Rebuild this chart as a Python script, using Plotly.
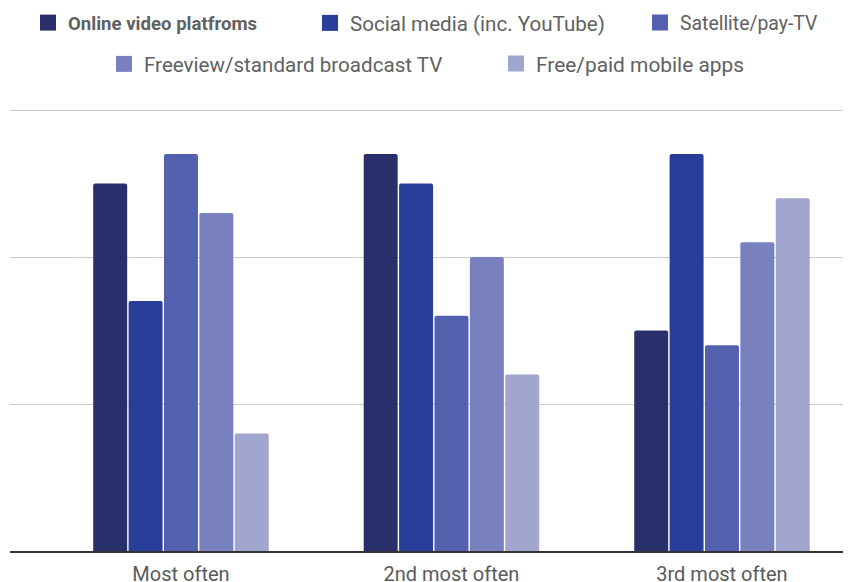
import plotly.graph_objects as go

categories = ["Most often", "2nd most often", "3rd most often"]
series_names = ["<b>Online video platfroms</b>", "Social media (inc. YouTube)", "Satellite/pay-TV",
                "Freeview/standard broadcast TV", "Free/paid mobile apps"]
online_video = [25, 27, 15]
social_media = [17, 25, 27]
satellite = [27, 16, 14]
freeview = [23, 20, 21]
mobile_apps = [8, 12, 24]
colors = ["#282f6b", "#283e9a", "#5260ad", "#7880be", "#a0a6cd"]

values = [online_video, social_media, satellite, freeview, mobile_apps]

# legend entry placement (figure px): left x, centre y, font size
legend_pos = [(20, 15, 18.6), (302, 15, 20.6), (632, 15, 19.4), (96, 56, 20.6), (488, 56, 20.9)]
legend_ids = ["legend", "legend2", "legend3", "legend4", "legend5"]

W, H = 851, 582

fig = go.Figure()
for name, vals, col, lid in zip(series_names, values, colors, legend_ids):
    fig.add_trace(go.Bar(x=categories, y=vals, name=name, legend=lid, showlegend=False,
                         marker=dict(color=col, line=dict(width=0), cornerradius=2)))
    # legend key (no data drawn)
    fig.add_trace(go.Scatter(x=[None], y=[None], mode="markers", name=name, legend=lid,
                             marker=dict(symbol="square", size=20, color=col, line=dict(width=0)),
                             hoverinfo="skip"))

legend_layouts = {}
for lid, (lx, ly, fs) in zip(legend_ids, legend_pos):
    legend_layouts[lid] = dict(orientation="h", xref="container", yref="container",
                               x=lx / W, xanchor="left", y=1 - ly / H, yanchor="middle",
                               itemwidth=30, itemsizing="trace",
                               font=dict(size=fs, color="#616161", family="Roboto"),
                               bgcolor="rgba(0,0,0,0)", itemclick=False, itemdoubleclick=False)

fig.update_layout(
    width=W, height=H,
    margin=dict(l=2, r=8, t=92, b=39),
    paper_bgcolor="white", plot_bgcolor="white",
    barmode="group", bargap=0.346, bargroupgap=0.04,
    font=dict(family="Roboto", color="#616161", size=17),
    showlegend=True,
    xaxis=dict(range=[-0.632, 2.477], showgrid=False, showline=True, linecolor="#333333",
               linewidth=2, ticks="", ticklabelstandoff=4,
               tickfont=dict(size=20, color="#5a5a5a"), automargin=False),
    yaxis=dict(range=[0, 30.68], tickvals=[0, 10, 20, 30], showticklabels=False,
               gridcolor="#cccccc", gridwidth=1, zeroline=False, automargin=False),
    **legend_layouts,
)

fig.write_html("out.html")
